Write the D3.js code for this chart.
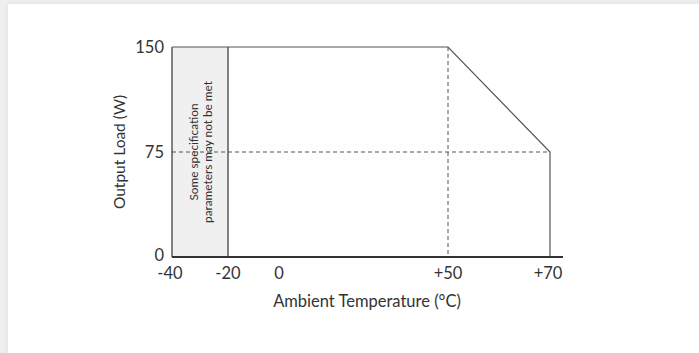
<!DOCTYPE html>
<html><head><meta charset="utf-8">
<script src="https://cdn.jsdelivr.net/npm/d3@7"></script>
<style>
html,body{margin:0;padding:0;background:#efefef;width:699px;height:353px;overflow:hidden;}
#card{position:absolute;left:8px;top:4px;width:720px;height:400px;background:#fff;box-shadow:0 0 6px rgba(0,0,0,0.08);}
svg{position:absolute;left:0;top:0;}
text{font-family:Lato,"Open Sans",sans-serif;fill:#333;}
</style></head>
<body><div id="card"></div><svg id="c" width="699" height="353"></svg>
<script>
const xTicks = [-40, -20, 0, 50, 70];
const xTickLabels = ["-40", "-20", "0", "+50", "+70"];
const yTicks = [0, 75, 150];
const derating = [{t:-40, w:150}, {t:50, w:150}, {t:70, w:75}, {t:70, w:0}];
const restrictedZone = [-40, -20];
const kneeTemp = 50, halfLoad = 75;
const xTitle = "Ambient Temperature (°C)";
const yTitle = "Output Load (W)";
const noteLines = ["Some specification", "parameters may not be met"];

const svg = d3.select("#c");
const x = d3.scaleLinear().domain(xTicks).range([172, 228, 279, 448, 550]);
const y = d3.scaleLinear().domain([0, 150]).range([257, 47]);
const ink = "#333";

svg.append("rect").attr("x", x(restrictedZone[0])).attr("y", y(150))
  .attr("width", x(restrictedZone[1]) - x(restrictedZone[0])).attr("height", y(0) - y(150))
  .attr("fill", "#f0f0f0").attr("stroke", "none");

svg.append("line").attr("x1", x(-40)).attr("x2", x(70)).attr("y1", y(halfLoad)).attr("y2", y(halfLoad))
  .attr("stroke", "#555").attr("stroke-dasharray", "4,3").attr("stroke-width", 1);
svg.append("line").attr("x1", x(kneeTemp)).attr("x2", x(kneeTemp)).attr("y1", y(150)).attr("y2", y(0))
  .attr("stroke", "#555").attr("stroke-dasharray", "4,3").attr("stroke-width", 1);

svg.append("line").attr("x1", x(-40)).attr("x2", x(-40)).attr("y1", y(150)).attr("y2", y(0))
  .attr("stroke", ink).attr("stroke-width", 1.2);
svg.append("line").attr("x1", x(-20)).attr("x2", x(-20)).attr("y1", y(150)).attr("y2", y(0))
  .attr("stroke", ink).attr("stroke-width", 1.2);

svg.append("path").datum(derating)
  .attr("d", d3.line().x(d => x(d.t)).y(d => y(d.w)))
  .attr("fill", "none").attr("stroke", "#555").attr("stroke-width", 1.2);

svg.append("line").attr("x1", x(-40)).attr("x2", x(70) + 13).attr("y1", y(0)).attr("y2", y(0))
  .attr("stroke", ink).attr("stroke-width", 2);

svg.selectAll(".yt").data(yTicks).enter().append("text")
  .attr("x", 164).attr("y", d => y(d)).attr("dy", d => d === 0 ? "0.25em" : "0.35em")
  .attr("text-anchor", "end").attr("font-size", 16.5).text(d => d);

svg.selectAll(".xt").data(xTicks).enter().append("text")
  .attr("x", (d, i) => x(d) + (i === 0 ? -2 : (i === 4 ? -2 : 0))).attr("y", 279)
  .attr("text-anchor", "middle").attr("font-size", 16.5).text((d, i) => xTickLabels[i]);

svg.append("text").attr("x", 367).attr("y", 307).attr("text-anchor", "middle")
  .attr("font-size", 16.5).text(xTitle);
svg.append("text").attr("transform", `translate(125,${y(halfLoad)}) rotate(-90)`)
  .attr("text-anchor", "middle").attr("font-size", 15.5).text(yTitle);

const cx = (x(restrictedZone[0]) + x(restrictedZone[1])) / 2;
svg.append("text").attr("transform", `translate(${cx},${y(halfLoad)}) rotate(-90)`)
  .attr("text-anchor", "middle").attr("font-size", 11.8)
  .selectAll("tspan").data(noteLines).enter().append("tspan")
  .attr("x", 0).attr("y", (d, i) => i === 0 ? -2 : 12).text(d => d);
</script></body></html>
